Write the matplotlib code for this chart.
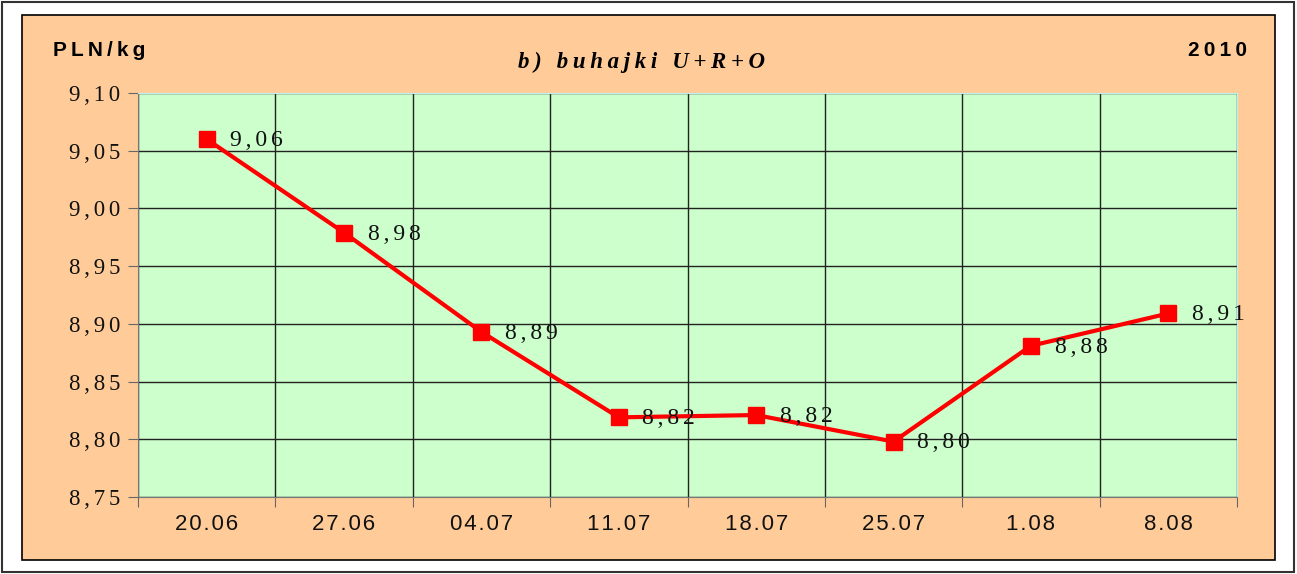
import matplotlib.pyplot as plt
from matplotlib.patches import Rectangle
from matplotlib.ticker import FixedLocator, NullFormatter

# dane
tygodnie = ["20.06", "27.06", "04.07", "11.07", "18.07", "25.07", "1.08", "8.08"]
ceny = [9.060, 8.979, 8.893, 8.819, 8.821, 8.798, 8.881, 8.909]
etykiety = ["9,06", "8,98", "8,89", "8,82", "8,82", "8,80", "8,88", "8,91"]
poziomy_y = [8.75, 8.80, 8.85, 8.90, 8.95, 9.00, 9.05, 9.10]

SERIF = ["Liberation Serif", "DejaVu Serif"]
SANS = ["Liberation Sans", "DejaVu Sans"]


def rozstaw(s, sep="\u2009"):
    # rozstrzelony tekst jak w Excelu
    return sep.join(s)


W, H = 1297, 574
fig = plt.figure(figsize=(W / 100, H / 100), dpi=100, facecolor="white")

# ramka zewnetrzna i pomaranczowe tlo
fig.patches.append(Rectangle((2 / W, 1 - 572 / H), 1292 / W, 570 / H, transform=fig.transFigure,
                             facecolor="white", edgecolor="#333333", lw=1.5, zorder=-20))
fig.patches.append(Rectangle((22 / W, 1 - 560 / H), 1253 / W, 545 / H, transform=fig.transFigure,
                             facecolor="#FFCC99", edgecolor="black", lw=1.2, zorder=-10))

ax = fig.add_axes([138 / W, 1 - 497 / H, 1099 / W, 404 / H])
ax.set_facecolor("#CCFFCC")

x = list(range(len(tygodnie)))
ax.plot(x, ceny, color="#FF0000", lw=3, marker="s", markersize=11, zorder=3)
for xi, yi, t in zip(x, ceny, etykiety):
    ax.annotate(rozstaw(t, "\u2006"), (xi, yi), xytext=(17, -1), textcoords="offset points",
                va="center", ha="left", fontsize=17, family=SERIF, color="#111111", zorder=4)

ax.set_xlim(-0.5, len(tygodnie) - 0.5)
ax.set_ylim(8.75, 9.10)

ax.xaxis.set_major_locator(FixedLocator([i - 0.5 for i in range(len(tygodnie) + 1)]))
ax.xaxis.set_major_formatter(NullFormatter())
ax.xaxis.set_minor_locator(FixedLocator(x))
ax.set_xticklabels([rozstaw(t, "\u200a") for t in tygodnie], minor=True)
ax.tick_params(axis="x", which="minor", length=0, pad=12, labelsize=16)
ax.tick_params(axis="x", which="major", length=7, direction="out", color="#666666")
for lab in ax.get_xticklabels(minor=True):
    lab.set_family(SANS)
    lab.set_color("#111111")

ax.set_yticks(poziomy_y)
ax.set_yticklabels([rozstaw(f"{v:.2f}".replace(".", ","), "\u2006") for v in poziomy_y])
ax.tick_params(axis="y", length=7, direction="out", color="#666666", pad=6, labelsize=16.5)
for lab in ax.get_yticklabels():
    lab.set_family(SERIF)
    lab.set_color("#111111")

ax.grid(True, which="major", color="#222222", lw=1)
ax.set_axisbelow(True)
for s in ["top", "right"]:
    ax.spines[s].set_color("#BFEFEF")
for s in ["left", "bottom"]:
    ax.spines[s].set_color("#777777")

fig.text(53 / W, 1 - 51 / H, rozstaw("PLN/kg"), fontsize=15, fontweight="bold", family=SANS,
         va="center", ha="left")
fig.text(1247 / W, 1 - 50 / H, rozstaw("2010"), fontsize=15, fontweight="bold", family=SANS,
         va="center", ha="right")
fig.text(642 / W, 1 - 62 / H, rozstaw("b) buhajki U+R+O"), fontsize=16.5, fontweight="bold",
         fontstyle="italic", family=SERIF, va="center", ha="center")

fig.savefig("out.png", dpi=100, facecolor="white")
